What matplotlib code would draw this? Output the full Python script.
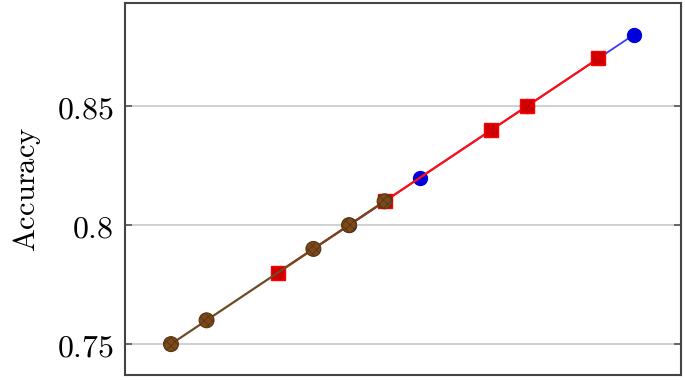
import matplotlib
matplotlib.use("Agg")
import matplotlib.pyplot as plt

plt.rcParams['mathtext.fontset'] = 'cm'
plt.rcParams['hatch.linewidth'] = 0.6

# Data (x = position index, y = accuracy)
blue_x = [5, 7, 10, 13]
blue_y = [0.80, 0.82, 0.85, 0.88]
red_x = [3, 6, 9, 10, 12]
red_y = [0.78, 0.81, 0.84, 0.85, 0.87]
brown_x = [0, 1, 4, 5, 6]
brown_y = [0.75, 0.76, 0.79, 0.80, 0.81]

yticks = [0.75, 0.80, 0.85]
ytick_labels = ['$0.75$', '$0.8$', '$0.85$']

fig = plt.figure(figsize=(6.85, 3.8), dpi=100)
ax = fig.add_axes([0.1825, 0.013, 0.812, 0.979])

ax.plot(blue_x, blue_y, color='#3a3aff', lw=1.3, marker='o', ms=10,
        mfc='#0000dd', mec='#0000dd', zorder=3)
ax.plot(red_x, red_y, color='#ff1010', lw=1.6, marker='s', ms=10,
        mfc='#d00000', mec='#ff0000', zorder=4)
ax.plot(brown_x, brown_y, color='#6e4a26', lw=1.6, zorder=5)
ax.scatter(brown_x, brown_y, s=115, marker='o', facecolor='#7a4a1c',
           edgecolor='#5a3510', hatch='xxxx', linewidth=0.8, zorder=6)

ax.set_xlim(-1.29, 14.33)
ax.set_ylim(0.737, 0.8933)
ax.set_yticks(yticks)
ax.set_yticklabels(ytick_labels, fontsize=23)
ax.set_xticks([])
ax.yaxis.grid(True, color='#c8c8c8', lw=1.2)
ax.set_axisbelow(True)
ax.tick_params(axis='y', direction='in', length=5, width=1.2, color='#555555',
               right=True, left=True, pad=8)
for s in ax.spines.values():
    s.set_color('#444444')
    s.set_linewidth(1.5)
ax.set_ylabel(r'$\mathrm{Accuracy}$', fontsize=22, labelpad=10)

fig.savefig('out.png', dpi=100)
